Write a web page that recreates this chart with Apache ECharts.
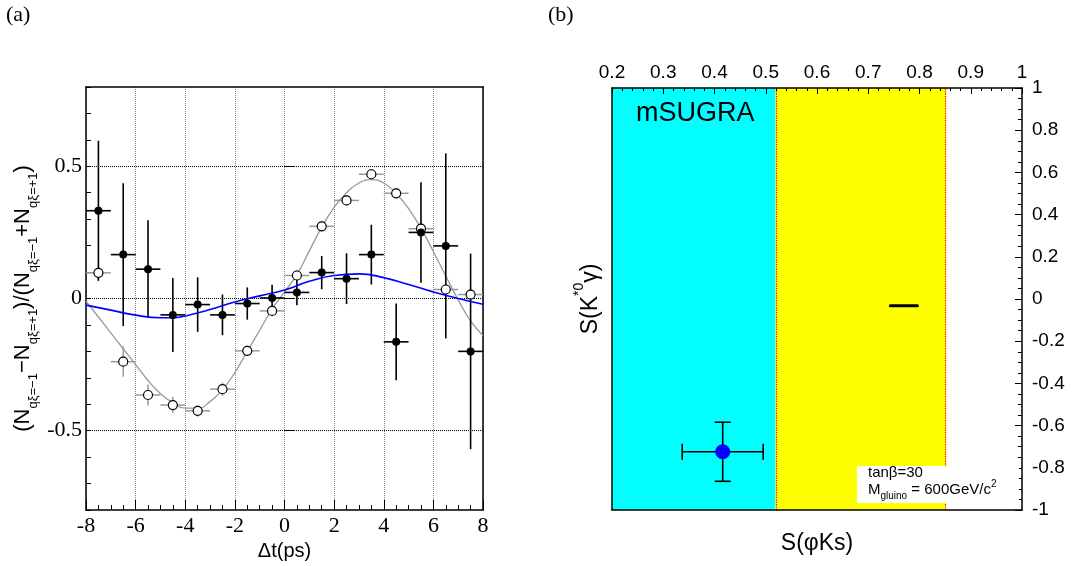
<!DOCTYPE html>
<html>
<head>
<meta charset="utf-8">
<script src="https://cdn.jsdelivr.net/npm/echarts@6/dist/echarts.min.js"></script>
<style>
  html, body { margin: 0; padding: 0; background: #fff; }
  #chart { width: 1077px; height: 566px; }
</style>
</head>
<body>
<div id="chart"></div>
<script>
// ---- panel (a): asymmetry vs delta t ----
const dtBins = [-7.5, -6.5, -5.5, -4.5, -3.5, -2.5, -1.5, -0.5, 0.5, 1.5, 2.5, 3.5, 4.5, 5.5, 6.5, 7.5];
const binHalfWidth = [0.5, 0.5, 0.5, 0.5, 0.5, 0.5, 0.5, 0.5, 0.5, 0.5, 0.5, 0.5, 0.5, 0.5, 0.5, 0.5];
const filledVals = [0.332, 0.166, 0.111, -0.062, -0.023, -0.062, -0.019, 0.002, 0.023, 0.098, 0.075, 0.166, -0.164, 0.25, 0.199, -0.2];
const filledErrs = [0.265, 0.27, 0.185, 0.14, 0.103, 0.077, 0.061, 0.05, 0.049, 0.063, 0.096, 0.113, 0.145, 0.19, 0.35, 0.37];
const openVals = [0.097, -0.239, -0.365, -0.403, -0.425, -0.343, -0.198, -0.047, 0.087, 0.273, 0.371, 0.47, 0.398, 0.264, 0.034, 0.015];
const openErrs = [0.03, 0.057, 0.04, 0.03, 0.022, 0.025, 0.02, 0.02, 0.02, 0.02, 0.02, 0.02, 0.02, 0.02, 0.02, 0.02];
const greyCurveT = [-8, -7.5, -7, -6.5, -6, -5.5, -5, -4.5, -4, -3.5, -3, -2.5, -2, -1.5, -1, -0.5, 0, 0.5, 1, 1.5, 2, 2.5, 3, 3.5, 4, 4.5, 5, 5.5, 6, 6.5, 7, 7.5, 8];
const greyCurveVals = [-0.01, -0.07, -0.13, -0.19, -0.25, -0.31, -0.36, -0.395, -0.415, -0.415, -0.39, -0.345, -0.28, -0.2, -0.12, -0.04, 0.025, 0.09, 0.18, 0.27, 0.345, 0.4, 0.437, 0.45, 0.437, 0.397, 0.34, 0.265, 0.178, 0.085, -0.005, -0.085, -0.14];
const blueCurveT = [-8, -7, -6, -5, -4.5, -4, -3, -2, -1, 0, 1, 2, 3, 4, 5, 6, 7, 8];
const blueCurveVals = [-0.025, -0.044, -0.063, -0.073, -0.073, -0.066, -0.042, -0.013, 0.01, 0.032, 0.065, 0.087, 0.093, 0.079, 0.053, 0.025, 0.0, -0.022];
const leftYMajor = [-0.5, 0, 0.5];

// ---- panel (b): S(K*0 gamma) vs S(phi Ks) ----
const cyanRange = [0.2, 0.519];
const yellowRange = [0.519, 0.852];
const measX = [0.416];
const measXErr = [0.079];
const measY = [-0.724];
const measYErr = [0.14];
const blobX = [0.743, 0.796];
const blobY = [-0.032, -0.032];

const serif = 'Liberation Serif';
const sans = 'Liberation Sans';

function errorBars(xs, ys, yErr, xErr, color, width, cap, xi, yi) {
  return {
    type: 'custom', xAxisIndex: xi, yAxisIndex: yi, silent: true, z: 3,
    data: xs.map((x, i) => [x, ys[i], yErr[i], xErr[i]]),
    renderItem: (params, api) => {
      const x = api.value(0), y = api.value(1), ey = api.value(2), ex = api.value(3);
      const l = api.coord([x - ex, y]), r = api.coord([x + ex, y]);
      const t = api.coord([x, y + ey]), b = api.coord([x, y - ey]);
      const style = { stroke: color, lineWidth: width };
      const kids = [
        { type: 'line', shape: { x1: l[0], y1: l[1], x2: r[0], y2: r[1] }, style },
        { type: 'line', shape: { x1: t[0], y1: t[1], x2: b[0], y2: b[1] }, style }
      ];
      if (cap) {
        kids.push({ type: 'line', shape: { x1: l[0], y1: l[1] - cap, x2: l[0], y2: l[1] + cap }, style });
        kids.push({ type: 'line', shape: { x1: r[0], y1: r[1] - cap, x2: r[0], y2: r[1] + cap }, style });
        kids.push({ type: 'line', shape: { x1: t[0] - cap, y1: t[1], x2: t[0] + cap, y2: t[1] }, style });
        kids.push({ type: 'line', shape: { x1: b[0] - cap, y1: b[1], x2: b[0] + cap, y2: b[1] }, style });
      }
      return { type: 'group', children: kids };
    }
  };
}

const chart = echarts.init(document.getElementById('chart'));

const option = {
  backgroundColor: '#fff',
  animation: false,
  grid: [
    { left: 86, top: 87, width: 397, height: 423, outerBoundsMode: 'none', show: false },
    { left: 612, top: 88, width: 410, height: 422, outerBoundsMode: 'none', show: false }
  ],
  xAxis: [
    {
      gridIndex: 0, type: 'value', min: -8, max: 8, interval: 2, position: 'bottom',
      name: 'Δt(ps)', nameLocation: 'middle', nameGap: 30,
      nameTextStyle: { fontFamily: sans, fontSize: 20, color: '#000' },
      axisLine: { show: true, onZero: false, lineStyle: { color: '#000', width: 1.5 } },
      axisTick: { show: true, inside: true, length: 10, lineStyle: { color: '#000', width: 1 } },
      minorTick: { show: true, splitNumber: 4, length: 5, lineStyle: { color: '#000', width: 1 } },
      axisLabel: { fontFamily: serif, fontSize: 22, color: '#000', margin: 5 },
      splitLine: { show: true, lineStyle: { color: '#888', type: 'dotted', width: 1 } }
    },
    {
      gridIndex: 0, type: 'value', min: -8, max: 8, position: 'top',
      axisLine: { show: true, onZero: false, lineStyle: { color: '#000', width: 1.5 } },
      axisTick: { show: false }, axisLabel: { show: false }, splitLine: { show: false }
    },
    {
      gridIndex: 1, type: 'value', min: 0.2, max: 1, interval: 0.1, position: 'top', z: 10,
      axisLine: { show: true, onZero: false, lineStyle: { color: '#000', width: 1.5 } },
      axisTick: { show: true, inside: true, length: 6, lineStyle: { color: '#000', width: 1 } },
      minorTick: { show: true, splitNumber: 5, length: 3, lineStyle: { color: '#000', width: 1 } },
      axisLabel: { fontFamily: sans, fontSize: 19, color: '#000', margin: 6 },
      splitLine: { show: false }
    },
    {
      gridIndex: 1, type: 'value', min: 0.2, max: 1, position: 'bottom', z: 10,
      name: 'S(φKs)', nameLocation: 'middle', nameGap: 22,
      nameTextStyle: { fontFamily: sans, fontSize: 23, color: '#000' },
      axisLine: { show: true, onZero: false, lineStyle: { color: '#000', width: 1.5 } },
      axisTick: { show: false }, axisLabel: { show: false }, splitLine: { show: false }
    }
  ],
  yAxis: [
    {
      gridIndex: 0, type: 'value', min: -0.8, max: 0.8, interval: 0.1, position: 'left',
      axisLine: { show: true, onZero: false, lineStyle: { color: '#000', width: 1.5 } },
      axisTick: { show: true, inside: true, length: 5, lineStyle: { color: '#000', width: 1 } },
      axisLabel: { show: false }, splitLine: { show: false }
    },
    {
      gridIndex: 0, type: 'value', min: -0.8, max: 0.8, position: 'left',
      name: '{t|(N}{s|qξ=−1}{t|−N}{s|qξ=+1}{t|)/(N}{s|qξ=−1}{t|+N}{s|qξ=+1}{t|)}',
      nameLocation: 'middle', nameRotate: 90, nameGap: 46,
      nameTextStyle: {
        color: '#000',
        rich: {
          t: { fontFamily: sans, fontSize: 22, color: '#000', verticalAlign: 'middle', lineHeight: 34 },
          s: { fontFamily: sans, fontSize: 13, color: '#000', verticalAlign: 'bottom', lineHeight: 34 }
        }
      },
      axisLine: { show: false },
      axisTick: { show: true, inside: true, length: 10, customValues: leftYMajor, lineStyle: { color: '#000', width: 1 } },
      axisLabel: {
        fontFamily: serif, fontSize: 22, color: '#000', margin: 4, customValues: leftYMajor,
        formatter: v => (Math.abs(v) < 1e-9 ? '0' : String(Math.round(v * 10) / 10))
      },
      splitLine: { show: true, lineStyle: { color: '#000', type: 'dotted', width: 1 } }
    },
    {
      gridIndex: 0, type: 'value', min: -0.8, max: 0.8, position: 'right',
      axisLine: { show: true, onZero: false, lineStyle: { color: '#000', width: 1.5 } },
      axisTick: { show: false }, axisLabel: { show: false }, splitLine: { show: false }
    },
    {
      gridIndex: 1, type: 'value', min: -1, max: 1, interval: 0.2, position: 'right', z: 10,
      axisLine: { show: true, onZero: false, lineStyle: { color: '#000', width: 1.5 } },
      axisTick: { show: true, inside: true, length: 7, lineStyle: { color: '#000', width: 1 } },
      minorTick: { show: true, splitNumber: 4, length: 4, lineStyle: { color: '#000', width: 1 } },
      axisLabel: { fontFamily: sans, fontSize: 19, color: '#000', margin: 10 },
      splitLine: { show: false }
    },
    {
      gridIndex: 1, type: 'value', min: -1, max: 1, position: 'left', z: 10,
      name: '{t|S(K}{p|*0}{t|γ)}', nameLocation: 'middle', nameRotate: 90, nameGap: 10,
      nameTextStyle: {
        color: '#000',
        rich: {
          t: { fontFamily: sans, fontSize: 23, color: '#000', verticalAlign: 'bottom', lineHeight: 30 },
          p: { fontFamily: sans, fontSize: 14, color: '#000', verticalAlign: 'top', lineHeight: 30 }
        }
      },
      axisLine: { show: true, onZero: false, lineStyle: { color: '#000', width: 1.5 } },
      axisTick: { show: false }, axisLabel: { show: false }, splitLine: { show: false }
    }
  ],
  series: [
    // panel (a)
    {
      type: 'line', xAxisIndex: 0, yAxisIndex: 0, smooth: true, symbol: 'none', silent: true,
      data: greyCurveT.map((t, i) => [t, greyCurveVals[i]]),
      lineStyle: { color: '#999', width: 1.3 }, z: 2
    },
    errorBars(dtBins, openVals, openErrs, binHalfWidth, '#999', 1.5, 0, 0, 0),
    {
      type: 'line', xAxisIndex: 0, yAxisIndex: 0, smooth: true, symbol: 'none', silent: true,
      data: blueCurveT.map((t, i) => [t, blueCurveVals[i]]),
      lineStyle: { color: '#0000ff', width: 1.6 }, z: 3
    },
    errorBars(dtBins, filledVals, filledErrs, binHalfWidth, '#000', 1.6, 0, 0, 0),
    {
      type: 'scatter', xAxisIndex: 0, yAxisIndex: 0, symbol: 'circle', symbolSize: 9, silent: true,
      data: dtBins.map((t, i) => [t, openVals[i]]),
      itemStyle: { color: '#fff', borderColor: '#000', borderWidth: 1.2, opacity: 1 }, z: 4
    },
    {
      type: 'scatter', xAxisIndex: 0, yAxisIndex: 0, symbol: 'circle', symbolSize: 8, silent: true,
      data: dtBins.map((t, i) => [t, filledVals[i]]),
      itemStyle: { color: '#000', opacity: 1 }, z: 5
    },
    // panel (b)
    {
      type: 'line', xAxisIndex: 2, yAxisIndex: 3, symbol: 'none', silent: true,
      data: blobX.map((x, i) => [x, blobY[i]]),
      lineStyle: { color: '#000', width: 3, cap: 'round' }, z: 3,
      markArea: {
        silent: true,
        data: [
          [{ xAxis: cyanRange[0], itemStyle: { color: '#00ffff', opacity: 1 } }, { xAxis: cyanRange[1] }],
          [{ xAxis: yellowRange[0], itemStyle: { color: '#ffff00', opacity: 1 } }, { xAxis: yellowRange[1] }]
        ]
      },
      markLine: {
        silent: true, symbol: 'none', label: { show: false },
        lineStyle: { color: '#ff0000', type: 'dotted', width: 1.2 },
        data: [{ xAxis: cyanRange[1] }, { xAxis: yellowRange[1] }]
      }
    },
    errorBars(measX, measY, measYErr, measXErr, '#000', 1.6, 8, 2, 3),
    {
      type: 'scatter', xAxisIndex: 2, yAxisIndex: 3, symbol: 'circle', symbolSize: 15, silent: true,
      data: measX.map((x, i) => [x, measY[i]]),
      itemStyle: { color: '#0000ff', opacity: 1 }, z: 5
    }
  ],
  graphic: [
    { type: 'text', left: 6, top: 4, style: { text: '(a)', font: '22px "Liberation Serif"', fill: '#000' } },
    { type: 'text', left: 548, top: 4, style: { text: '(b)', font: '22px "Liberation Serif"', fill: '#000' } },
    { type: 'text', left: 636, top: 100, z: 20, style: { text: 'mSUGRA', font: '27px "Liberation Sans"', fill: '#000' } },
    { type: 'rect', left: 857, top: 466, z: 20, shape: { width: 162, height: 37 }, style: { fill: '#fff' } },
    { type: 'text', left: 868, top: 465, z: 21, style: { text: 'tanβ=30', font: '15px "Liberation Sans"', fill: '#000' } },
    {
      type: 'text', left: 868, top: 479, z: 21,
      style: {
        text: '{t|M}{s|gluino}{t| = 600GeV/c}{p|2}',
        fill: '#000',
        rich: {
          t: { fontFamily: sans, fontSize: 15, fill: '#000', verticalAlign: 'middle', lineHeight: 22 },
          s: { fontFamily: sans, fontSize: 10, fill: '#000', verticalAlign: 'bottom', lineHeight: 22 },
          p: { fontFamily: sans, fontSize: 10, fill: '#000', verticalAlign: 'top', lineHeight: 22 }
        }
      }
    }
  ]
};

chart.setOption(option);
</script>
</body>
</html>
